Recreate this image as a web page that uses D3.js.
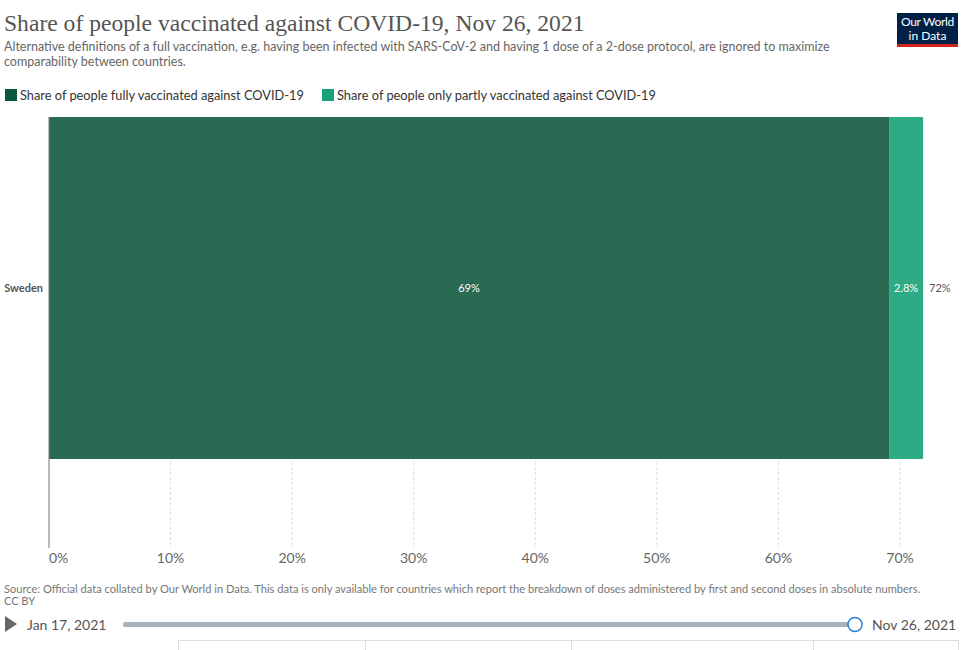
<!DOCTYPE html>
<html>
<head>
<meta charset="utf-8">
<script src="https://cdn.jsdelivr.net/npm/d3@7"></script>
<style>
  body { margin: 0; background: #fff; }
  text { font-family: Lato, "Noto Sans", sans-serif; }
</style>
</head>
<body>
<script>
// data
var countries = ["Sweden"]
var fullyVaccinated = [69.1]
var partlyVaccinated = [2.8]
var seriesNames = ["Share of people fully vaccinated against COVID-19", "Share of people only partly vaccinated against COVID-19"]
var legendColors = ["#0b573e", "#18a27b"]
var barColors = ["#2a6a52", "#2eab84"]
var xTicks = [0, 10, 20, 30, 40, 50, 60, 70]
var dates = ["Jan 17, 2021", "Nov 26, 2021"]

var W = 970, H = 650
var svg = d3.select("body").append("svg")
  .attr("width", W)
  .attr("height", H)

// header
svg.append("text")
  .attr("x", 4).attr("y", 31)
  .style("font-family", "'Liberation Serif', 'DejaVu Serif', serif")
  .style("font-size", "23.6px")
  .style("fill", "#555")
  .text("Share of people vaccinated against COVID-19, Nov 26, 2021")

var sub = ["Alternative definitions of a full vaccination, e.g. having been infected with SARS-CoV-2 and having 1 dose of a 2-dose protocol, are ignored to maximize",
  "comparability between countries."]
svg.selectAll("text.sub").data(sub).enter().append("text")
  .attr("class", "sub")
  .attr("x", 4).attr("y", function(d, i) { return 51 + i * 15 })
  .style("font-size", "12.5px")
  .style("fill", "#666")
  .text(function(d) { return d })

// logo
var logo = svg.append("g").attr("transform", "translate(897,13)")
logo.append("rect").attr("width", 61).attr("height", 31).attr("fill", "#002147")
logo.append("rect").attr("y", 31).attr("width", 61).attr("height", 3).attr("fill", "#ce261e")
logo.append("text").attr("x", 30.5).attr("y", 13).attr("text-anchor", "middle")
  .style("font-size", "12px").style("fill", "#fff").style("letter-spacing", "-0.3px").text("Our World")
logo.append("text").attr("x", 30.5).attr("y", 27).attr("text-anchor", "middle")
  .style("font-size", "12px").style("fill", "#fff").text("in Data")

// legend
var legendX = [5, 322]
var leg = svg.selectAll("g.leg").data(seriesNames).enter().append("g")
  .attr("class", "leg")
  .attr("transform", function(d, i) { return "translate(" + legendX[i] + ",89)" })
leg.append("rect").attr("width", 12).attr("height", 12)
  .attr("fill", function(d, i) { return legendColors[i] })
leg.append("text").attr("x", 15).attr("y", 11)
  .style("font-size", "12.8px").style("fill", "#333")
  .text(function(d) { return d })

// chart
var x = d3.scaleLinear().domain([0, 70]).range([49, 900])
var y = d3.scaleBand().domain(countries).range([117, 459]).padding(0)
var plotBottom = 548

svg.append("g").selectAll("line").data(xTicks.slice(1)).enter().append("line")
  .attr("x1", function(d) { return x(d) }).attr("x2", function(d) { return x(d) })
  .attr("y1", 117).attr("y2", plotBottom)
  .attr("stroke", "#ddd").attr("stroke-dasharray", "3,2")

svg.append("g").selectAll("text").data(xTicks).enter().append("text")
  .attr("x", function(d) { return x(d) })
  .attr("y", 563)
  .attr("text-anchor", function(d) { return d === 0 ? "start" : "middle" })
  .style("font-size", "14px").style("fill", "#666")
  .text(function(d) { return d + "%" })

var rows = countries.map(function(c, i) {
  return { name: c, full: fullyVaccinated[i], part: partlyVaccinated[i] }
})

var row = svg.selectAll("g.row").data(rows).enter().append("g").attr("class", "row")

row.append("rect")
  .attr("x", x(0))
  .attr("y", function(d) { return y(d.name) })
  .attr("width", function(d) { return x(d.full) - x(0) })
  .attr("height", y.bandwidth())
  .attr("fill", barColors[0])

row.append("rect")
  .attr("x", function(d) { return x(d.full) })
  .attr("y", function(d) { return y(d.name) })
  .attr("width", function(d) { return x(d.full + d.part) - x(d.full) })
  .attr("height", y.bandwidth())
  .attr("fill", barColors[1])

row.append("text")
  .attr("x", function(d) { return (x(0) + x(d.full)) / 2 })
  .attr("y", function(d) { return y(d.name) + y.bandwidth() / 2 + 4 })
  .attr("text-anchor", "middle")
  .style("font-size", "11px").style("fill", "#fff")
  .text(function(d) { return Math.round(d.full) + "%" })

row.append("text")
  .attr("x", function(d) { return (x(d.full) + x(d.full + d.part)) / 2 })
  .attr("y", function(d) { return y(d.name) + y.bandwidth() / 2 + 4 })
  .attr("text-anchor", "middle")
  .style("font-size", "11px").style("fill", "#fff")
  .text(function(d) { return d.part.toFixed(1) + "%" })

row.append("text")
  .attr("x", function(d) { return x(d.full + d.part) + 6 })
  .attr("y", function(d) { return y(d.name) + y.bandwidth() / 2 + 4 })
  .style("font-size", "11px").style("fill", "#555")
  .text(function(d) { return Math.round(d.full + d.part) + "%" })

row.append("text")
  .attr("x", 43)
  .attr("y", function(d) { return y(d.name) + y.bandwidth() / 2 + 4 })
  .attr("text-anchor", "end")
  .style("font-size", "11px").style("font-weight", "bold").style("fill", "#555")
  .text(function(d) { return d.name })

svg.append("line")
  .attr("x1", x(0)).attr("x2", x(0))
  .attr("y1", 117).attr("y2", plotBottom)
  .attr("stroke", "#777").attr("stroke-width", 1)

// footer
svg.append("text").attr("x", 4).attr("y", 593)
  .style("font-size", "11.1px").style("fill", "#777")
  .text("Source: Official data collated by Our World in Data. This data is only available for countries which report the breakdown of doses administered by first and second doses in absolute numbers.")
svg.append("text").attr("x", 4).attr("y", 605)
  .style("font-size", "11px").style("fill", "#777")
  .text("CC BY")

// timeline
svg.append("path").attr("d", "M5,616 L17,624 L5,632 Z").attr("fill", "#666")
svg.append("text").attr("x", 27).attr("y", 630)
  .style("font-size", "14px").style("fill", "#555").text(dates[0])
svg.append("rect").attr("x", 123).attr("y", 622).attr("width", 732).attr("height", 5)
  .attr("rx", 2).attr("fill", "#a8b1bc")
svg.append("circle").attr("cx", 855).attr("cy", 624.5).attr("r", 7)
  .attr("fill", "#fff").attr("stroke", "#2a7fd4").attr("stroke-width", 1.5)
svg.append("text").attr("x", 872).attr("y", 630)
  .style("font-size", "14px").style("fill", "#555").text(dates[1])

// tab strip at the bottom
var tabX = [178, 365, 571, 813, 958]
svg.append("line").attr("x1", 178).attr("x2", 958).attr("y1", 640.5).attr("y2", 640.5)
  .attr("stroke", "#ddd")
svg.selectAll("line.tab").data(tabX).enter().append("line").attr("class", "tab")
  .attr("x1", function(d) { return d + 0.5 }).attr("x2", function(d) { return d + 0.5 })
  .attr("y1", 640).attr("y2", 650).attr("stroke", "#ddd")
</script>
</body>
</html>
